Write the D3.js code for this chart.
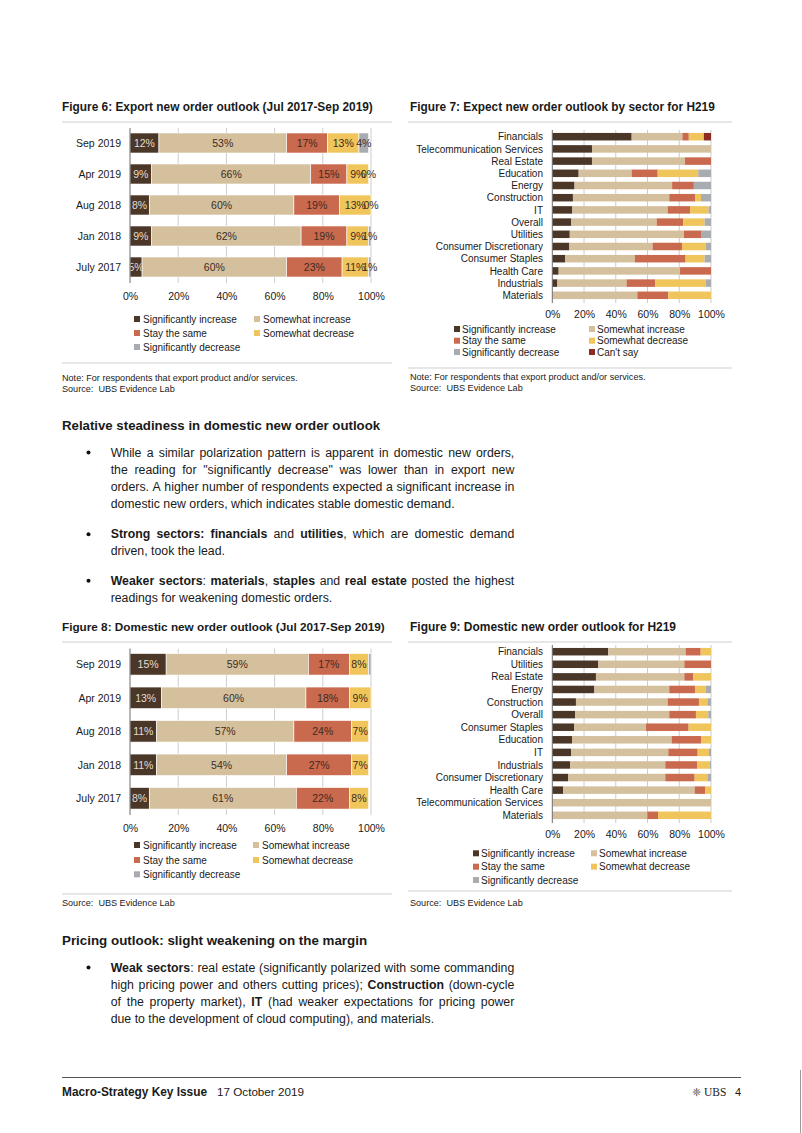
<!DOCTYPE html>
<html>
<head>
<meta charset="utf-8">
<script src="https://cdn.jsdelivr.net/npm/d3@7/dist/d3.min.js"></script>
<style>
  html, body { margin: 0; padding: 0; background: #fff; }
  svg { display: block; }
  text { font-family: "Liberation Sans", Arial, sans-serif; fill: #1a1a1a; }
</style>
</head>
<body>
<svg id="page" width="802" height="1133"></svg>
<script>
// ---------------- DATA ----------------
const seriesNames = ["Significantly increase", "Somewhat increase", "Stay the same", "Somewhat decrease", "Significantly decrease", "Can't say"];
const seriesColors = ["#4a3728", "#d5c09e", "#c9694d", "#f0c65c", "#a8abb0", "#8b2b22"];
const pctTicks = [0, 20, 40, 60, 80, 100];

// Figure 6: Export new order outlook
const fig6Periods = ["Sep 2019", "Apr 2019", "Aug 2018", "Jan 2018", "July 2017"];
const fig6SigInc  = [12, 9, 8, 9, 5];
const fig6SomeInc = [53, 66, 60, 62, 60];
const fig6Same    = [17, 15, 19, 19, 23];
const fig6SomeDec = [13, 9, 13, 9, 11];
const fig6SigDec  = [4, 0, 0, 1, 1];

// Figure 7: Expect new order outlook by sector for H219
const fig7Sectors = ["Financials", "Telecommunication Services", "Real Estate", "Education", "Energy", "Construction", "IT", "Overall", "Utilities", "Consumer Discretionary", "Consumer Staples", "Health Care", "Industrials", "Materials"];
const fig7SigInc  = [50, 25, 25, 16.6, 14, 13, 12.6, 12, 11, 10.7, 8, 4, 3.2, 0];
const fig7SomeInc = [32, 75, 58.6, 33.4, 61.5, 60.7, 60.1, 53.8, 72, 52.5, 44, 76.5, 43.6, 53.6];
const fig7Same    = [4, 0, 16.4, 16.4, 13.7, 16.2, 14.1, 16.6, 11.1, 18.5, 32, 19.5, 18, 19.5];
const fig7SomeDec = [9.5, 0, 0, 25.6, 0, 3.8, 11.7, 13.6, 0, 14.9, 12, 0, 32, 26.9];
const fig7SigDec  = [0, 0, 0, 8, 10.8, 6.3, 1.5, 4, 5.9, 3.4, 4, 0, 3.2, 0];
const fig7CantSay = [4.5, 0, 0, 0, 0, 0, 0, 0, 0, 0, 0, 0, 0, 0];

// Figure 8: Domestic new order outlook
const fig8Periods = ["Sep 2019", "Apr 2019", "Aug 2018", "Jan 2018", "July 2017"];
const fig8SigInc  = [15, 13, 11, 11, 8];
const fig8SomeInc = [59, 60, 57, 54, 61];
const fig8Same    = [17, 18, 24, 27, 22];
const fig8SomeDec = [8, 9, 7, 7, 8];
const fig8SigDec  = [1, 0, 0, 0, 0];

// Figure 9: Domestic new order outlook for H219
const fig9Sectors = ["Financials", "Utilities", "Real Estate", "Energy", "Construction", "Overall", "Consumer Staples", "Education", "IT", "Industrials", "Consumer Discretionary", "Health Care", "Telecommunication Services", "Materials"];
const fig9SigInc  = [35.3, 29, 27.5, 26.5, 14.9, 14.5, 13.7, 12.4, 11.8, 11.3, 9.9, 6.9, 0, 0];
const fig9SomeInc = [48.7, 54.2, 55.7, 47.2, 57.8, 59.2, 45.3, 62.8, 61.3, 59.9, 61.3, 82.8, 100, 59.9];
const fig9Same    = [9.5, 16.8, 5.7, 16.2, 19.7, 16.8, 26.9, 18.5, 18.5, 20, 18.5, 6.7, 0, 6.7];
const fig9SomeDec = [6.5, 0, 11.1, 6.7, 5.3, 7.8, 14.1, 6.3, 7.1, 8.2, 8, 3.6, 0, 33.4];
const fig9SigDec  = [0, 0, 0, 3.4, 2.3, 1.7, 0, 0, 1.3, 0.6, 2.3, 0, 0, 0];

// Text content
const noteExport = "Note: For respondents that export product and/or services.";
const sourceText = "Source:  UBS Evidence Lab";
const heading1 = "Relative steadiness in domestic new order outlook";
const bullets1 = [
  ["While a similar polarization pattern is apparent in domestic new orders,",
   "the reading for \"significantly decrease\" was lower than in export new",
   "orders. A higher number of respondents expected a significant increase in",
   "domestic new orders, which indicates stable domestic demand."],
  ["*Strong sectors: financials* and *utilities*, which are domestic demand",
   "driven, took the lead."],
  ["*Weaker sectors*: *materials*, *staples* and *real estate* posted the highest",
   "readings for weakening domestic orders."]
];
const heading2 = "Pricing outlook: slight weakening on the margin";
const bullets2 = [
  ["*Weak sectors*: real estate (significantly polarized with some commanding",
   "high pricing power and others cutting prices); *Construction* (down-cycle",
   "of the property market), *IT* (had weaker expectations for pricing power",
   "due to the development of cloud computing), and materials."]
];

// ---------------- DRAWING ----------------
const svg = d3.select("#page");
svg.append("rect").attr("width", 802).attr("height", 1133).attr("fill", "#fff");

function fitText(sel, target) {
  const w = sel.node().getComputedTextLength();
  const fs = parseFloat(sel.attr("font-size"));
  sel.attr("font-size", (fs * target / w).toFixed(2));
  return sel;
}

function hline(x1, x2, y, color, w) {
  svg.append("line").attr("x1", x1).attr("x2", x2).attr("y1", y).attr("y2", y)
    .attr("stroke", color).attr("stroke-width", w || 1);
}

// note font size: fitted on the export note width
const noteProbe = svg.append("text").attr("font-size", 10).text(noteExport);
const noteSize = 10 * 236 / noteProbe.node().getComputedTextLength();
noteProbe.remove();

function chart(cfg) {
  const g = svg.append("g");
  const x = d3.scaleLinear().domain([0, 100]).range([cfg.x0, cfg.x1]);
  const y = d3.scalePoint().domain(cfg.cats).range([cfg.yFirst, cfg.yLast]);
  const h = cfg.barH;
  const gridTop = cfg.yFirst - h / 2 - cfg.gridPadTop;
  const gridBot = cfg.yLast + h / 2 + cfg.gridPadBot;

  // title
  const t = g.append("text").attr("x", cfg.titleX).attr("y", cfg.titleY)
    .attr("font-size", 12).attr("font-weight", "bold").text(cfg.title);
  fitText(t, cfg.titleW);
  hline(cfg.ruleX1, cfg.ruleX2, cfg.ruleY, "#cfcfcf", 1);

  // gridlines
  g.append("g").selectAll("line").data(pctTicks.slice(1)).join("line")
    .attr("x1", d => x(d)).attr("x2", d => x(d))
    .attr("y1", gridTop).attr("y2", gridBot)
    .attr("stroke", "#cdcdcd").attr("stroke-width", 1);

  // stacked bars
  const rows = cfg.cats.map((c, i) => {
    let acc = 0;
    return cfg.series.map((s, k) => {
      const v = s[i]; const seg = { cat: c, k, v, x0: acc, x1: acc + v }; acc += v; return seg;
    });
  }).flat();
  g.append("g").selectAll("rect").data(rows.filter(d => d.v > 0)).join("rect")
    .attr("x", d => x(d.x0)).attr("width", d => x(d.x1) - x(d.x0))
    .attr("y", d => y(d.cat) - h / 2).attr("height", h)
    .attr("fill", d => seriesColors[d.k])
    .attr("stroke", "#fff").attr("stroke-width", cfg.segStroke);

  // value labels
  if (cfg.labelSeries) {
    g.append("g").selectAll("text").data(rows.filter(d => cfg.labelSeries.includes(d.k))).join("text")
      .attr("x", d => x((d.x0 + d.x1) / 2)).attr("y", d => y(d.cat))
      .attr("dy", "0.36em").attr("text-anchor", "middle")
      .attr("font-size", cfg.labelSize)
      .style("fill", d => d.k === 0 ? "#e4ddd2" : "#3d2c22")
      .text(d => Math.round(d.v) + "%");
  }

  // 0% axis line
  g.append("line").attr("x1", x(0)).attr("x2", x(0)).attr("y1", gridTop).attr("y2", gridBot)
    .attr("stroke", "#6e6e6e").attr("stroke-width", 1);

  // category labels
  g.append("g").selectAll("text").data(cfg.cats).join("text")
    .attr("x", cfg.catX).attr("y", d => y(d)).attr("dy", "0.36em")
    .attr("text-anchor", "end").attr("font-size", cfg.catSize).text(d => d);

  // x axis tick labels
  const ax = g.append("g").attr("transform", `translate(0,${cfg.tickY})`)
    .call(d3.axisBottom(x).tickValues(pctTicks).tickFormat(d => d + "%").tickSize(0).tickPadding(0));
  ax.select(".domain").remove();
  ax.selectAll("text").attr("font-size", cfg.tickSize).attr("dy", "0.36em")
    .attr("font-family", "Liberation Sans, Arial, sans-serif").style("fill", "#1a1a1a");

  // legend
  const leg = g.append("g");
  cfg.legendItems.forEach((k, i) => {
    const col = i % 2, row = Math.floor(i / 2);
    const mx = cfg.legCols[col], ty = cfg.legRows[row];
    leg.append("rect").attr("x", mx - 3).attr("y", ty - 3).attr("width", 6).attr("height", 6)
      .attr("fill", seriesColors[k]);
    leg.append("text").attr("x", mx + cfg.legGap).attr("y", ty).attr("dy", "0.36em")
      .attr("font-size", cfg.legSize).text(seriesNames[k]);
  });

  // bottom rule + notes
  hline(cfg.ruleX1, cfg.ruleX2, cfg.noteRuleY, "#cfcfcf", 1);
  cfg.notes.forEach((n, i) => {
    g.append("text").attr("x", cfg.titleX).attr("y", cfg.noteYs[i]).attr("dy", "0.36em")
      .attr("font-size", noteSize.toFixed(2)).style("white-space", "pre").text(n);
  });
}

chart({
  title: "Figure 6: Export new order outlook (Jul 2017-Sep 2019)", titleX: 62, titleY: 111, titleW: 311,
  ruleX1: 62, ruleX2: 392, ruleY: 122,
  cats: fig6Periods, series: [fig6SigInc, fig6SomeInc, fig6Same, fig6SomeDec, fig6SigDec],
  x0: 130, x1: 371, yFirst: 143, yLast: 267, barH: 20, gridPadTop: 5, gridPadBot: 6,
  segStroke: 0.6, labelSeries: [0, 1, 2, 3, 4], labelSize: 10.5,
  catX: 121, catSize: 10.5, tickY: 296, tickSize: 10.5,
  legendItems: [0, 1, 2, 3, 4], legCols: [137, 257], legRows: [319, 333, 347], legGap: 6, legSize: 10,
  noteRuleY: 363, notes: [noteExport, sourceText], noteYs: [378, 389]
});

chart({
  title: "Figure 7: Expect new order outlook by sector for H219", titleX: 410, titleY: 111, titleW: 305,
  ruleX1: 408, ruleX2: 732, ruleY: 122,
  cats: fig7Sectors, series: [fig7SigInc, fig7SomeInc, fig7Same, fig7SomeDec, fig7SigDec, fig7CantSay],
  x0: 552.3, x1: 711, yFirst: 136.7, yLast: 295.3, barH: 7.5, gridPadTop: 3, gridPadBot: 4,
  segStroke: 0, labelSeries: null, labelSize: 10,
  catX: 543, catSize: 10, tickY: 314, tickSize: 10.5,
  legendItems: [0, 1, 2, 3, 4, 5], legCols: [457, 592], legRows: [329, 340.7, 352], legGap: 5, legSize: 10,
  noteRuleY: 368, notes: [noteExport, sourceText], noteYs: [377, 388]
});

chart({
  title: "Figure 8: Domestic new order outlook (Jul 2017-Sep 2019)", titleX: 62, titleY: 631, titleW: 323,
  ruleX1: 62, ruleX2: 392, ruleY: 642,
  cats: fig8Periods, series: [fig8SigInc, fig8SomeInc, fig8Same, fig8SomeDec, fig8SigDec],
  x0: 130, x1: 371, yFirst: 664.3, yLast: 798.3, barH: 21.5, gridPadTop: 5, gridPadBot: 6,
  segStroke: 0.6, labelSeries: [0, 1, 2, 3], labelSize: 10.5,
  catX: 121, catSize: 10.5, tickY: 828, tickSize: 10.5,
  legendItems: [0, 1, 2, 3, 4], legCols: [137, 256], legRows: [845, 860, 874.3], legGap: 6, legSize: 10,
  noteRuleY: 894, notes: [sourceText], noteYs: [903]
});

chart({
  title: "Figure 9: Domestic new order outlook for H219", titleX: 410, titleY: 631, titleW: 266,
  ruleX1: 408, ruleX2: 732, ruleY: 642,
  cats: fig9Sectors, series: [fig9SigInc, fig9SomeInc, fig9Same, fig9SomeDec, fig9SigDec],
  x0: 552.3, x1: 711, yFirst: 651.7, yLast: 815.3, barH: 7.5, gridPadTop: 3, gridPadBot: 4,
  segStroke: 0, labelSeries: null, labelSize: 10,
  catX: 543, catSize: 10, tickY: 834, tickSize: 10.5,
  legendItems: [0, 1, 2, 3, 4], legCols: [476, 594], legRows: [853.3, 866.7, 880], legGap: 5, legSize: 10,
  noteRuleY: 891, notes: [sourceText], noteYs: [903]
});

// ---------------- BODY TEXT ----------------
function parseWords(str) {
  const words = []; let bold = false; let cur = [];
  for (const ch of str) {
    if (ch === "*") { bold = !bold; continue; }
    if (ch === " ") { if (cur.length) words.push(cur); cur = []; continue; }
    if (cur.length && cur[cur.length - 1].b === bold) cur[cur.length - 1].t += ch;
    else cur.push({ t: ch, b: bold });
  }
  if (cur.length) words.push(cur);
  return words;
}

const bodyG = svg.append("g");
const probe = bodyG.append("text").attr("font-size", 12).text(bullets1[0][2]);
const bodySize = 12 * 401 / probe.node().getComputedTextLength();
probe.remove();
const sp1 = bodyG.append("text").attr("font-size", bodySize).text("a a");
const sp2 = bodyG.append("text").attr("font-size", bodySize).text("aa");
const spaceW = sp1.node().getComputedTextLength() - sp2.node().getComputedTextLength();
sp1.remove(); sp2.remove();

function drawLine(str, x, y, width, justify) {
  const words = parseWords(str);
  const nodes = words.map(w => {
    const t = bodyG.append("text").attr("y", y).attr("font-size", bodySize.toFixed(2));
    w.forEach(p => t.append("tspan").attr("font-weight", p.b ? "bold" : "normal").text(p.t));
    return t;
  });
  const widths = nodes.map(n => n.node().getComputedTextLength());
  const total = d3.sum(widths);
  const gap = justify && words.length > 1 ? (width - total) / (words.length - 1) : spaceW;
  let cx = x;
  nodes.forEach((n, i) => { n.attr("x", cx.toFixed(2)); cx += widths[i] + gap; });
}

function drawBullets(bullets, startYs) {
  bullets.forEach((lines, bi) => {
    const y0 = startYs[bi];
    bodyG.append("circle").attr("cx", 88.5).attr("cy", y0 - 4).attr("r", 2).attr("fill", "#111");
    lines.forEach((ln, li) => {
      drawLine(ln, 110.7, y0 + li * 17.2, 403.6, li < lines.length - 1);
    });
  });
}

const h1 = svg.append("text").attr("x", 62).attr("y", 430).attr("font-size", 13).attr("font-weight", "bold").text(heading1);
fitText(h1, 318);
drawBullets(bullets1, [456.5, 538.2, 584.8]);

const h2 = svg.append("text").attr("x", 62).attr("y", 945).attr("font-size", 13).attr("font-weight", "bold").text(heading2);
fitText(h2, 305);
drawBullets(bullets2, [971.5]);

// ---------------- FOOTER ----------------
hline(62, 741, 1077.5, "#555", 1);
const f1 = svg.append("text").attr("x", 62).attr("y", 1096).attr("font-size", 11).attr("font-weight", "bold").text("Macro-Strategy Key Issue");
fitText(f1, 145);
const f2 = svg.append("text").attr("x", 217).attr("y", 1096).attr("font-size", 11).text("17 October 2019");
fitText(f2, 87);
svg.append("text").attr("x", 692).attr("y", 1096).attr("font-size", 11).style("fill", "#555").text("❈");
svg.append("text").attr("x", 704).attr("y", 1096).attr("font-size", 11.5)
  .style("font-family", "'Liberation Serif', serif").text("UBS");
svg.append("text").attr("x", 735).attr("y", 1096).attr("font-size", 11).text("4");
svg.append("line").attr("x1", 800.5).attr("x2", 800.5).attr("y1", 1070).attr("y2", 1133)
  .attr("stroke", "#999").attr("stroke-width", 1);
</script>
</body>
</html>
